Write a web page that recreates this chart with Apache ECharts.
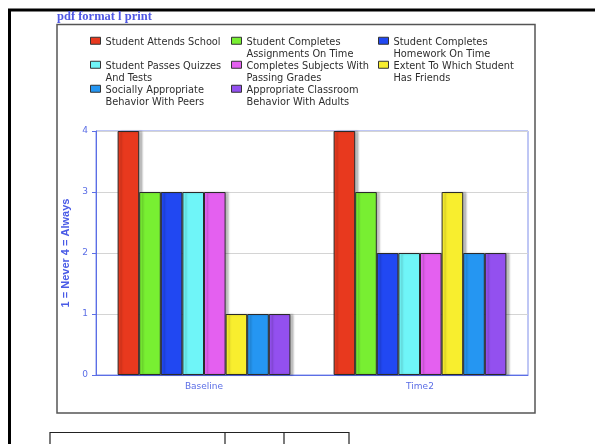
<!DOCTYPE html>
<html>
<head>
<meta charset="utf-8">
<script src="https://cdn.jsdelivr.net/npm/echarts@6/dist/echarts.min.js"></script>
<style>
  html, body { margin: 0; padding: 0; background: #fff; }
  #chart { width: 595px; height: 444px; }
</style>
</head>
<body>
<div id="chart"></div>
<script>
// Measurement points
const categories = ['Baseline', 'Time2'];

// Legend/series labels (line breaks as shown in the legend)
const seriesNames = [
  'Student Attends School',
  'Student Completes\nAssignments On Time',
  'Student Completes\nHomework On Time',
  'Student Passes Quizzes\nAnd Tests',
  'Completes Subjects With\nPassing Grades',
  'Extent To Which Student\nHas Friends',
  'Socially Appropriate\nBehavior With Peers',
  'Appropriate Classroom\nBehavior With Adults'
];

// Ratings per item: [Baseline, Time2]
const attendsSchool      = [4, 4];
const assignmentsOnTime  = [3, 3];
const homeworkOnTime     = [3, 2];
const passesQuizzes      = [3, 2];
const passingGrades      = [3, 2];
const hasFriends         = [1, 3];
const behaviorPeers      = [1, 2];
const behaviorAdults     = [1, 2];

const yTicks = [0, 1, 2, 3, 4];

const seriesValues = [attendsSchool, assignmentsOnTime, homeworkOnTime, passesQuizzes,
                      passingGrades, hasFriends, behaviorPeers, behaviorAdults];
const seriesColors = ['#e8391e', '#78ef32', '#2148f2', '#6ff5f8',
                      '#e460f0', '#f8ee2e', '#2596f2', '#9350ef'];

const axisBlue = '#5b6ee6';
const legendFont = 'DejaVu Sans, Verdana, sans-serif';

// square swatch near the top of a 24px tall legend row
const swatch = 'path://M0,2.5h10v7h-10z M0,24';

function legendCol(indices, left) {
  return {
    orient: 'vertical',
    left: left,
    top: 36,
    itemWidth: 10,
    itemHeight: 24,
    itemGap: 0,
    padding: 0,
    icon: swatch,
    itemStyle: { borderColor: '#333', borderWidth: 1, shadowBlur: 0, shadowOffsetX: 0, shadowOffsetY: 0 },
    data: indices.map(i => seriesNames[i]),
    formatter: n => n.indexOf('\n') < 0 ? n + '\n ' : n,
    textStyle: { fontFamily: legendFont, fontSize: 9.8, lineHeight: 12, color: '#2e2e2e', padding: [0, 0, 0, 0] },
    itemTextGap: 5,
    selectedMode: false
  };
}

const chart = echarts.init(document.getElementById('chart'), null, { renderer: 'canvas' });

chart.setOption({
  animation: false,
  backgroundColor: '#ffffff',
  graphic: [
    // page frame
    { type: 'line', shape: { x1: 8, y1: 10, x2: 595, y2: 10 }, style: { stroke: '#000', lineWidth: 3 } },
    { type: 'line', shape: { x1: 9.5, y1: 9, x2: 9.5, y2: 444 }, style: { stroke: '#000', lineWidth: 3 } },
    // chart panel
    { type: 'rect', shape: { x: 57, y: 24.5, width: 478, height: 388.5 },
      style: { fill: 'none', stroke: '#555', lineWidth: 1.5 } },
    { type: 'text', left: 57, top: 10,
      style: { text: 'pdf format l print', fill: '#5058e4', font: 'bold 12.5px "Liberation Serif", serif' } },
    // table header below the chart
    { type: 'polyline', shape: { points: [[50, 444], [50, 432.5], [349, 432.5], [349, 444]] },
      style: { fill: 'none', stroke: '#222', lineWidth: 1.2 } },
    { type: 'line', shape: { x1: 225, y1: 432, x2: 225, y2: 444 }, style: { stroke: '#222', lineWidth: 1.2 } },
    { type: 'line', shape: { x1: 284, y1: 432, x2: 284, y2: 444 }, style: { stroke: '#222', lineWidth: 1.2 } }
  ],
  legend: [
    legendCol([0, 3, 6], 90),
    legendCol([1, 4, 7], 231),
    legendCol([2, 5], 378)
  ],
  grid: {
    left: 96, top: 131, right: 67, bottom: 69,
    show: true, borderColor: '#7f8eea', borderWidth: 1, backgroundColor: 'transparent'
  },
  xAxis: {
    type: 'category',
    data: categories,
    axisLine: { lineStyle: { color: axisBlue, width: 1 } },
    axisTick: { alignWithLabel: true, length: 4, lineStyle: { color: axisBlue } },
    axisLabel: { color: axisBlue, fontFamily: legendFont, fontSize: 9, margin: 7 }
  },
  yAxis: {
    type: 'value',
    min: yTicks[0],
    max: yTicks[yTicks.length - 1],
    interval: 1,
    name: '1 = Never 4 = Always',
    nameLocation: 'middle',
    nameGap: 14,
    nameTextStyle: { color: '#4a5be6', fontFamily: 'Liberation Sans, Arial, sans-serif', fontSize: 11, fontWeight: 'bold' },
    axisLine: { show: true, lineStyle: { color: axisBlue, width: 1 } },
    axisTick: { show: true, length: 4, lineStyle: { color: axisBlue } },
    axisLabel: { color: axisBlue, fontFamily: legendFont, fontSize: 9, margin: 8 },
    splitLine: { lineStyle: { color: '#d4d4d4', width: 1 } }
  },
  series: seriesNames.map((name, i) => ({
    type: 'bar',
    name: name,
    data: seriesValues[i],
    barGap: '0%',
    barCategoryGap: '20%',
    itemStyle: {
      color: seriesColors[i],
      borderColor: '#2a2a2a',
      borderWidth: 1,
      shadowColor: 'rgba(0,0,0,0.25)',
      shadowBlur: 2,
      shadowOffsetX: 3,
      shadowOffsetY: 0
    }
  }))
});
</script>
</body>
</html>
